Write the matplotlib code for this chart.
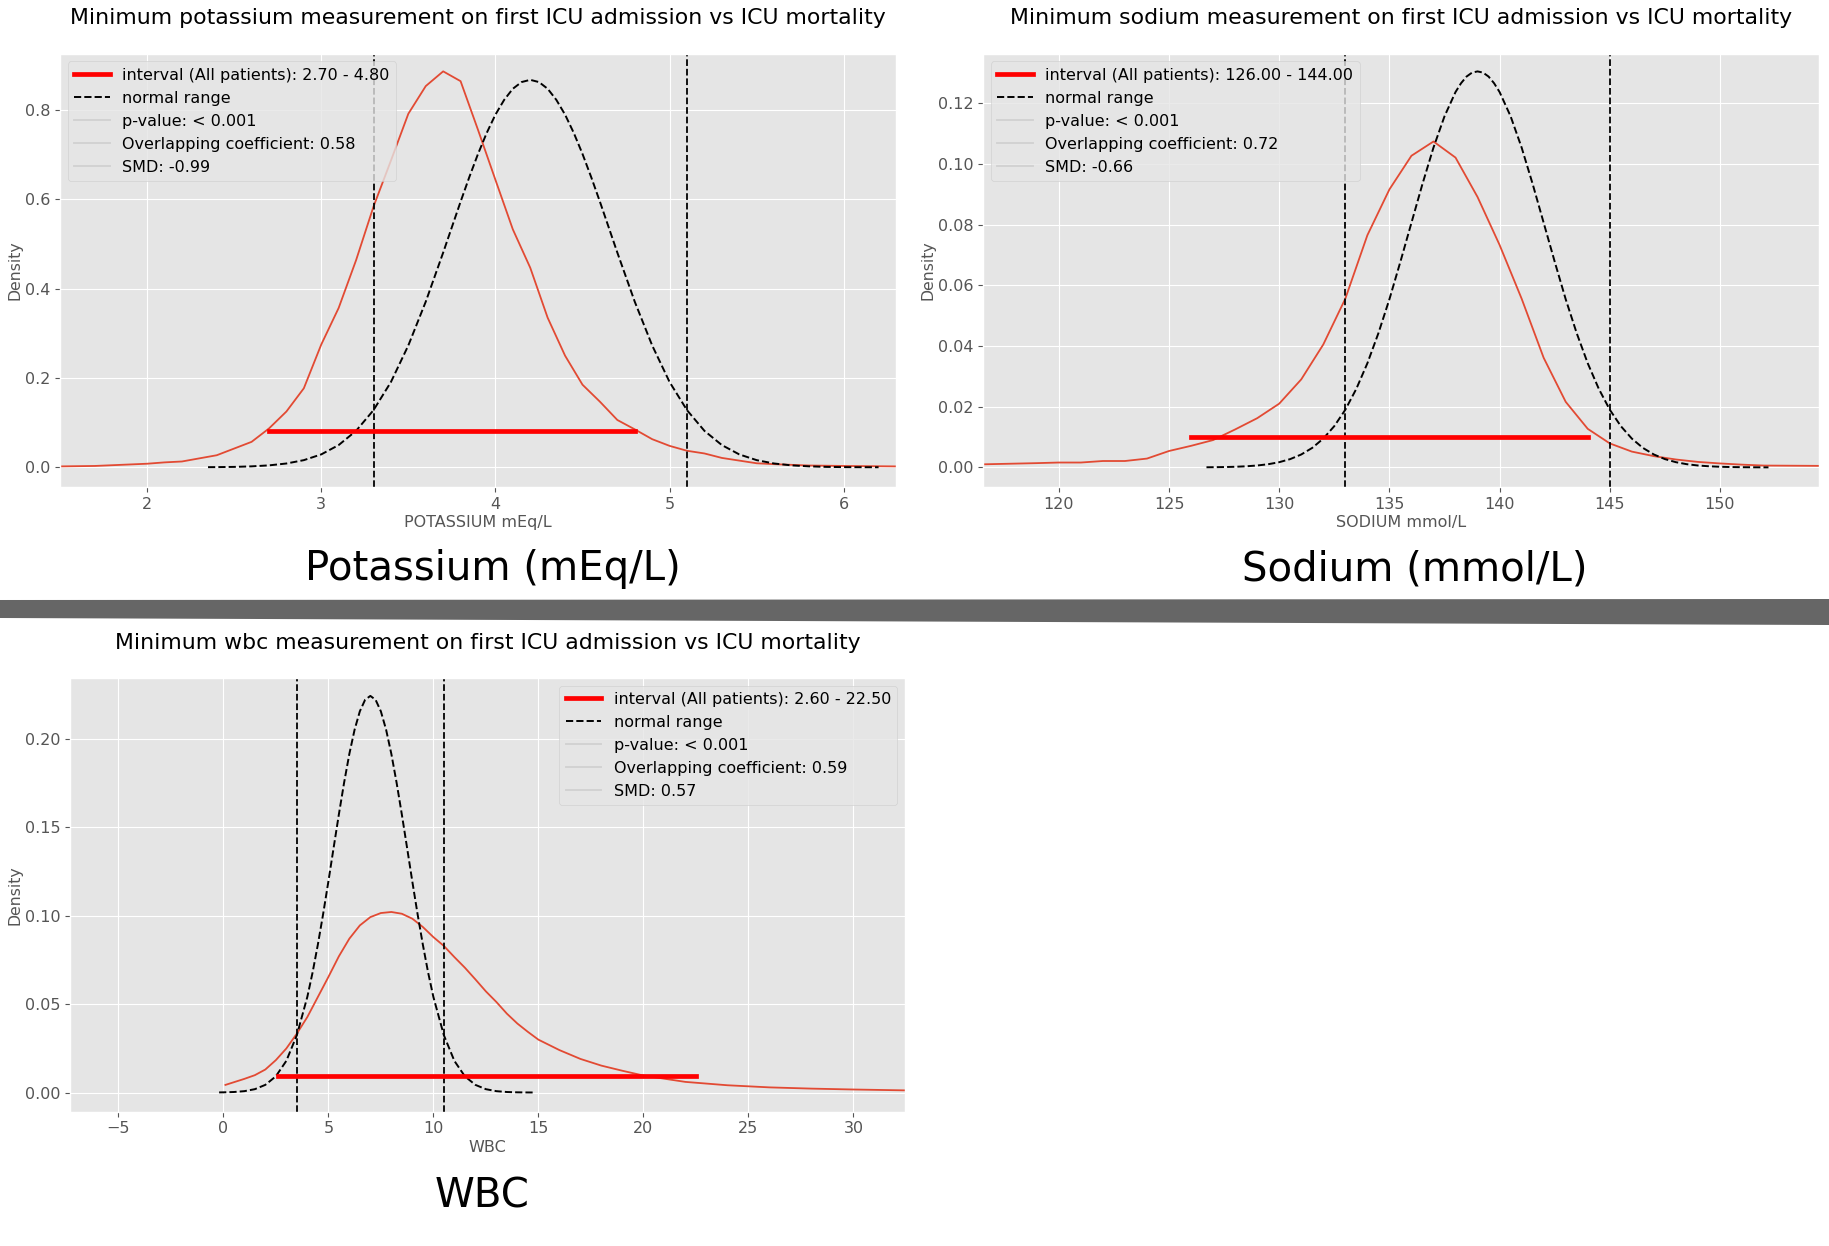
import matplotlib.pyplot as plt
from matplotlib.lines import Line2D
from matplotlib.patches import Polygon

plt.style.use('ggplot')

# potassium: kde of minimum values (all patients)
k_x = [1.5, 1.7, 2.0, 2.1, 2.2, 2.4, 2.6, 2.7, 2.8, 2.9, 3.0, 3.1, 3.2, 3.3, 3.4, 3.5, 3.6, 3.7, 3.8, 3.9,
       4.0, 4.1, 4.2, 4.3, 4.4, 4.5, 4.6, 4.7, 4.8, 4.9, 5.0, 5.1, 5.2, 5.3, 5.4, 5.5, 5.6, 5.8, 6.0, 6.3]
k_y = [0.002, 0.003, 0.008, 0.011, 0.013, 0.027, 0.057, 0.087, 0.125, 0.177, 0.275, 0.357, 0.464, 0.584, 0.687,
       0.792, 0.854, 0.887, 0.865, 0.756, 0.644, 0.533, 0.447, 0.335, 0.250, 0.185, 0.147, 0.106, 0.085, 0.063,
       0.048, 0.037, 0.031, 0.021, 0.015, 0.009, 0.007, 0.004, 0.003, 0.002]
# potassium: reference normal curve
kn_x = [2.35, 2.4, 2.5, 2.6, 2.7, 2.8, 2.9, 3.0, 3.1, 3.2, 3.3, 3.4, 3.5, 3.6, 3.7, 3.75, 3.8, 3.85, 3.9, 3.95,
        4.0, 4.05, 4.1, 4.15, 4.2, 4.25, 4.3, 4.35, 4.4, 4.45, 4.5, 4.55, 4.6, 4.65, 4.7, 4.8, 4.9, 5.0, 5.1,
        5.2, 5.3, 5.4, 5.5, 5.6, 5.7, 5.8, 5.9, 6.0, 6.1, 6.2]
kn_y = [0.0003, 0.0004, 0.0009, 0.0021, 0.0043, 0.0085, 0.016, 0.0289, 0.0498, 0.0817, 0.128, 0.191, 0.273,
        0.371, 0.481, 0.538, 0.595, 0.650, 0.702, 0.749, 0.790, 0.823, 0.848, 0.863, 0.868, 0.863, 0.848,
        0.823, 0.790, 0.749, 0.702, 0.650, 0.595, 0.538, 0.481, 0.371, 0.273, 0.191, 0.128, 0.0817, 0.0498,
        0.0289, 0.016, 0.0085, 0.0043, 0.0021, 0.0009, 0.0004, 0.0002, 0.0001]
k_range = [3.3, 5.1]
k_interval = [2.7, 4.8]
k_interval_y = 0.0815
k_legend = ['interval (All patients): 2.70 - 4.80', 'normal range', 'p-value: < 0.001',
            'Overlapping coefficient: 0.58', 'SMD: -0.99']

# sodium
na_x = [116.5, 119, 120, 121, 122, 123, 124, 125, 126, 127, 128, 129, 130, 131, 132, 133, 134, 135, 136, 137,
        138, 139, 140, 141, 142, 143, 144, 145, 146, 147, 148, 149, 150, 151, 152, 154.5]
na_y = [0.0010, 0.0014, 0.0016, 0.0016, 0.0021, 0.0021, 0.0029, 0.0054, 0.0071, 0.0090, 0.0125, 0.0162,
        0.0210, 0.0290, 0.0405, 0.0556, 0.0765, 0.0916, 0.1027, 0.1074, 0.1021, 0.0891, 0.0733, 0.0556,
        0.0361, 0.0216, 0.0127, 0.0079, 0.0052, 0.0037, 0.0026, 0.0018, 0.0013, 0.0009, 0.0006, 0.0005]
nan_x = [126.7, 127, 127.5, 128, 128.5, 129, 129.5, 130, 130.5, 131, 131.5, 132, 132.5, 133, 133.5, 134,
         134.5, 135, 135.5, 136, 136.5, 137, 137.5, 138, 138.25, 138.5, 138.75, 139, 139.25, 139.5, 139.75,
         140, 140.5, 141, 141.5, 142, 142.5, 143, 143.5, 144, 144.5, 145, 145.5, 146, 146.5, 147, 147.5,
         148, 148.5, 149, 149.5, 150, 150.5, 151, 151.5, 152, 152.2]
nan_y = [0.00004, 0.00006, 0.00011, 0.0002, 0.00036, 0.00062, 0.00104, 0.00171, 0.00273, 0.00425, 0.00643,
         0.00949, 0.0136, 0.0190, 0.0259, 0.0343, 0.0442, 0.0554, 0.0678, 0.0806, 0.0934, 0.1054, 0.1157,
         0.1237, 0.1266, 0.1288, 0.1301, 0.1305, 0.1301, 0.1288, 0.1266, 0.1237, 0.1157, 0.1054, 0.0934,
         0.0806, 0.0678, 0.0554, 0.0442, 0.0343, 0.0259, 0.0190, 0.0136, 0.00949, 0.00643, 0.00425,
         0.00273, 0.00171, 0.00104, 0.00062, 0.00036, 0.0002, 0.00011, 0.00006, 0.00003, 0.00001, 0.00001]
na_range = [133, 145]
na_interval = [126, 144]
na_interval_y = 0.0101
na_legend = ['interval (All patients): 126.00 - 144.00', 'normal range', 'p-value: < 0.001',
             'Overlapping coefficient: 0.72', 'SMD: -0.66']

# wbc
w_x = [0.1, 1, 1.5, 2, 2.5, 3, 3.5, 4, 4.5, 5, 5.5, 6, 6.5, 7, 7.5, 8, 8.5, 9, 9.5, 10, 10.5, 11, 11.5,
       12, 12.5, 13, 13.5, 14, 14.5, 15, 16, 17, 18, 19, 20, 22, 24, 26, 28, 30, 32.5]
w_y = [0.0043, 0.0077, 0.0098, 0.0130, 0.0183, 0.0249, 0.0333, 0.0427, 0.0540, 0.0653, 0.0770, 0.0870,
       0.0945, 0.0992, 0.1015, 0.1021, 0.1011, 0.0983, 0.0936, 0.0879, 0.0829, 0.0766, 0.0706, 0.0640,
       0.0572, 0.0512, 0.0446, 0.0390, 0.0343, 0.0299, 0.0240, 0.0190, 0.0152, 0.0123, 0.0096, 0.0060,
       0.0041, 0.0029, 0.0022, 0.0017, 0.0012]
wn_x = [-0.2, 0, 0.5, 1, 1.5, 2, 2.5, 3, 3.5, 4, 4.25, 4.5, 4.75, 5, 5.25, 5.5, 5.75, 6, 6.25, 6.5, 6.75, 7,
        7.25, 7.5, 7.75, 8, 8.25, 8.5, 8.75, 9, 9.25, 9.5, 9.75, 10, 10.5, 11, 11.5, 12, 12.5, 13, 13.5,
        14, 14.5, 14.8]
wn_y = [0.00006, 0.0001, 0.00028, 0.00076, 0.00188, 0.00432, 0.00916, 0.0179, 0.0324, 0.0541, 0.0679,
        0.0836, 0.1008, 0.1192, 0.1383, 0.1572, 0.1752, 0.1915, 0.2052, 0.2156, 0.2221, 0.2243, 0.2221,
        0.2156, 0.2052, 0.1915, 0.1752, 0.1572, 0.1383, 0.1192, 0.1008, 0.0836, 0.0679, 0.0541, 0.0324,
        0.0179, 0.00916, 0.00432, 0.00188, 0.00076, 0.00028, 0.0001, 0.00003, 0.00001]
w_range = [3.5, 10.5]
w_interval = [2.6, 22.5]
w_interval_y = 0.0096
w_legend = ['interval (All patients): 2.60 - 22.50', 'normal range', 'p-value: < 0.001',
            'Overlapping coefficient: 0.59', 'SMD: 0.57']

W, H = 1829, 1246
fig = plt.figure(figsize=(W / 100, H / 100), dpi=100)


def px_axes(left, top, right, bottom):
    return fig.add_axes([left / W, 1 - bottom / H, (right - left) / W, (bottom - top) / H])


def draw_panel(ax, kx, ky, nx, ny, rng, interval, iy, labels, name, xlabel, xlim, ylim, loc):
    ax.plot(kx, ky, color='#E24A33', lw=1.3)
    ax.plot(nx, ny, color='black', ls='--', lw=1.4)
    for v in rng:
        ax.axvline(v, color='black', ls='--', lw=1.3)
    ax.plot(interval, [iy, iy], color='red', lw=3.4)
    ax.set_xlim(*xlim)
    ax.set_ylim(*ylim)
    ax.set_title('Minimum %s measurement on first ICU admission vs ICU mortality' % name,
                 fontsize=15.8, pad=21, color='black')
    ax.set_xlabel(xlabel, fontsize=11.5, labelpad=2.5)
    ax.set_ylabel('Density', fontsize=11.3, labelpad=1.5)
    ax.tick_params(labelsize=11.5)
    handles = [Line2D([], [], color='red', lw=3.4),
               Line2D([], [], color='black', ls='--', lw=1.4),
               Line2D([], [], color='#d0d0d0', lw=1.3),
               Line2D([], [], color='#d0d0d0', lw=1.3),
               Line2D([], [], color='#d0d0d0', lw=1.3)]
    ax.legend(handles, labels, loc=loc, fontsize=11.5, handlelength=2.2)


ax1 = px_axes(60, 53.5, 896, 486.8)
draw_panel(ax1, k_x, k_y, kn_x, kn_y, k_range, k_interval, k_interval_y, k_legend,
           'potassium', 'POTASSIUM mEq/L', (1.5, 6.3), (-0.0437, 0.927), 'upper left')

ax2 = px_axes(983, 53.5, 1818.5, 486.8)
draw_panel(ax2, na_x, na_y, nan_x, nan_y, na_range, na_interval, na_interval_y, na_legend,
           'sodium', 'SODIUM mmol/L', (116.56, 154.47), (-0.0064, 0.1364), 'upper left')

ax3 = px_axes(70, 677.7, 905.3, 1111.6)
draw_panel(ax3, w_x, w_y, wn_x, wn_y, w_range, w_interval, w_interval_y, w_legend,
           'wbc', 'WBC', (-7.3, 32.47), (-0.0108, 0.2346), 'upper right')

fig.text(493 / W, 1 - 569 / H, 'Potassium (mEq/L)', fontsize=29, ha='center', va='center')
fig.text(1415 / W, 1 - 569 / H, 'Sodium (mmol/L)', fontsize=29, ha='center', va='center')
fig.text(482 / W, 1 - 1196 / H, 'WBC', fontsize=29, ha='center', va='center')

# separator bar between the two rows
bar = Polygon([(0, 1 - 600 / H), (1, 1 - 599 / H), (1, 1 - 625 / H), (0, 1 - 618 / H)],
              closed=True, transform=fig.transFigure, facecolor='#666666', edgecolor='none')
fig.patches.append(bar)

fig.savefig('out.png', dpi=100, facecolor='white')
